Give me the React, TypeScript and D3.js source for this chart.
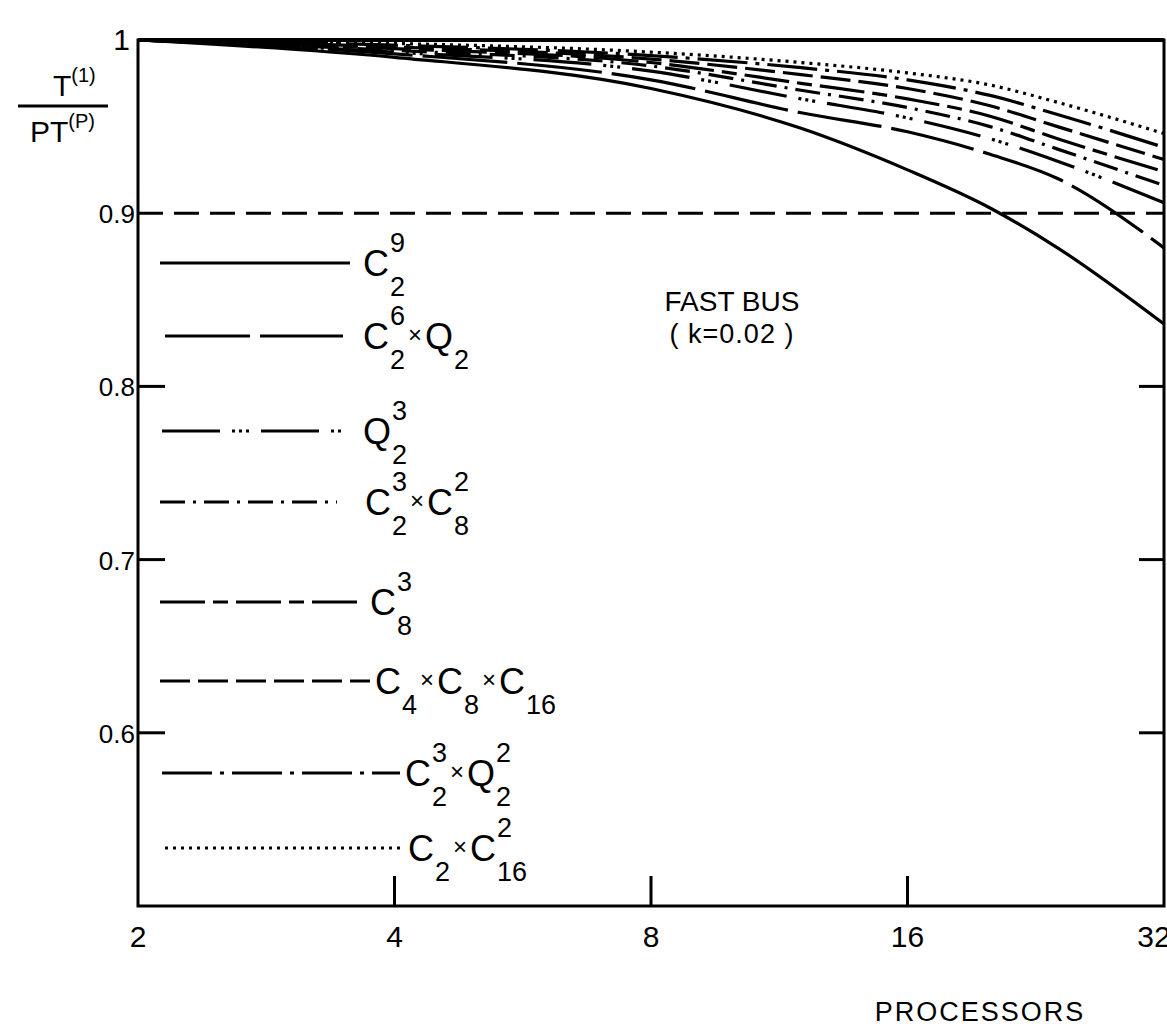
import { useMemo } from 'react';
import * as d3 from 'd3';

// processors sampled along the x axis
const procs = [2, 4, 8, 12, 16, 20, 24, 32];

// efficiency T(1)/(p T(p)) for each network
const effC2x9 = [1.0, 0.990, 0.972, 0.949, 0.925, 0.903, 0.880, 0.836];
const effC2x6Q2 = [1.0, 0.992, 0.977, 0.958, 0.947, 0.934, 0.920, 0.880];
const effQ2x3 = [1.0, 0.993, 0.982, 0.966, 0.955, 0.943, 0.930, 0.906];
const effC2x3C8x2 = [1.0, 0.994, 0.985, 0.971, 0.961, 0.950, 0.937, 0.916];
const effC8x3 = [1.0, 0.995, 0.987, 0.975, 0.966, 0.956, 0.943, 0.924];
const effC4C8C16 = [1.0, 0.996, 0.989, 0.980, 0.972, 0.962, 0.950, 0.931];
const effC2x3Q2x2 = [1.0, 0.997, 0.991, 0.984, 0.977, 0.968, 0.957, 0.938];
const effC2C16x2 = [1.0, 0.998, 0.993, 0.987, 0.981, 0.974, 0.964, 0.946];

const xTicks = [2, 4, 8, 16, 32];
const yTickLabels = [1, 0.9, 0.8, 0.7, 0.6];
const sideTicks = [0.8, 0.7, 0.6];

type Tok = { b: string; sub?: string; sup?: string };

const legendNames: Tok[][] = [
  [{ b: 'C', sub: '2', sup: '9' }],
  [{ b: 'C', sub: '2', sup: '6' }, { b: '×' }, { b: 'Q', sub: '2' }],
  [{ b: 'Q', sub: '2', sup: '3' }],
  [{ b: 'C', sub: '2', sup: '3' }, { b: '×' }, { b: 'C', sub: '8', sup: '2' }],
  [{ b: 'C', sub: '8', sup: '3' }],
  [{ b: 'C', sub: '4' }, { b: '×' }, { b: 'C', sub: '8' }, { b: '×' }, { b: 'C', sub: '16' }],
  [{ b: 'C', sub: '2', sup: '3' }, { b: '×' }, { b: 'Q', sub: '2', sup: '2' }],
  [{ b: 'C', sub: '2' }, { b: '×' }, { b: 'C', sub: '16', sup: '2' }],
];

const series = [effC2x9, effC2x6Q2, effQ2x3, effC2x3C8x2, effC8x3, effC4C8C16, effC2x3Q2x2, effC2C16x2];
const dashes = ['', '85,10', '58,12,3,4,3,4,3,12', '25,8,3,8', '45,8,15,8', '30,8', '50,8,4,8', '3,5'];

// legend rows: y of the sample line, start and end of it, where the name starts
const legendY = [263, 336, 431, 502, 602, 681, 773, 848];
const legendX0 = [160, 165, 162, 160, 160, 160, 162, 165];
const legendX1 = [350, 343, 345, 337, 362, 370, 400, 400];
const labelX = [363, 363, 363, 365, 370, 375, 405, 408];

const FONT = '"Liberation Sans", Arial, sans-serif';

function Label({ x, y, toks }: { x: number; y: number; toks: Tok[] }) {
  const big = 36;
  const small = 27;
  const supOff = -24;
  const subOff = 20;
  const parts: JSX.Element[] = [];
  let cur = 0;
  toks.forEach((t, i) => {
    if (t.b === '×') {
      parts.push(
        <tspan key={i + 'x'} fontSize={24} dy={-6 - cur} dx={3}>×</tspan>
      );
      cur = -6;
      return;
    }
    parts.push(
      <tspan key={i + 'b'} fontSize={big} dy={0 - cur} dx={i === 0 ? 0 : 3}>{t.b}</tspan>
    );
    cur = 0;
    if (t.sup) {
      parts.push(<tspan key={i + 'p'} fontSize={small} dy={supOff - cur} dx={1}>{t.sup}</tspan>);
      cur = supOff;
      if (t.sub) {
        const w = t.sup.length * small * 0.556;
        parts.push(<tspan key={i + 's'} fontSize={small} dx={-w} dy={subOff - cur}>{t.sub}</tspan>);
        cur = subOff;
      }
    } else if (t.sub) {
      parts.push(<tspan key={i + 's'} fontSize={small} dx={1} dy={subOff - cur}>{t.sub}</tspan>);
      cur = subOff;
    }
  });
  return (
    <text x={x} y={y} fontFamily={FONT} fill="#000">
      {parts}
    </text>
  );
}

export default function App() {
  const width = 1167;
  const height = 1027;
  const left = 138, right = 1164, top = 40, bottom = 906;

  const x = useMemo(() => d3.scaleLog().base(2).domain([2, 32]).range([left, right]), []);
  const y = useMemo(() => d3.scaleLinear().domain([0.5, 1]).range([bottom, top]), []);

  const line = d3
    .line<number>()
    .x((_, i) => x(procs[i]))
    .y((d) => y(d))
    .curve(d3.curveMonotoneX);

  return (
    <svg width={width} height={height} style={{ position: 'absolute', left: 0, top: 0, background: '#fff' }}>
      <rect width={width} height={height} fill="#fff" />
      {/* curves */}
      <g fill="none" stroke="#000" strokeWidth={3.2}>
        {series.map((s, i) => (
          <path key={i} d={line(s) || ''} strokeDasharray={dashes[i] || undefined} />
        ))}
      </g>
      {/* 0.9 reference */}
      <line x1={left} x2={right} y1={y(0.9)} y2={y(0.9)} stroke="#000" strokeWidth={3} strokeDasharray="25,11" />
      {/* frame */}
      <rect x={left} y={top} width={right - left} height={bottom - top} fill="none" stroke="#000" strokeWidth={3} />
      <line x1={left} x2={right} y1={top} y2={top} stroke="#000" strokeWidth={4} />
      {/* ticks */}
      <g stroke="#000" strokeWidth={3}>
        {sideTicks.map((t) => (
          <g key={t}>
            <line x1={left} x2={left + 27} y1={y(t)} y2={y(t)} />
            <line x1={right - 25} x2={right} y1={y(t)} y2={y(t)} />
          </g>
        ))}
        {xTicks.slice(1, -1).map((t) => (
          <line key={t} x1={x(t)} x2={x(t)} y1={bottom} y2={bottom - 30} />
        ))}
      </g>
      {/* tick labels */}
      <g fontFamily={FONT} fill="#000">
        {yTickLabels.map((t) => (
          <text key={t} x={t === 1 ? 130 : 135} y={y(t) + 10} fontSize={t === 1 ? 30 : 26} textAnchor="end">
            {t === 1 ? '1' : t.toFixed(1)}
          </text>
        ))}
        {xTicks.map((t) => (
          <text key={t} x={x(t) - (t === 32 ? 10 : 0)} y={947} fontSize={30} textAnchor="middle">
            {t}
          </text>
        ))}
        <text x={980} y={1021} fontSize={27} textAnchor="middle" letterSpacing={2}>PROCESSORS</text>
        <text x={732} y={311} fontSize={28} textAnchor="middle">FAST BUS</text>
        <text x={732} y={343} fontSize={27} textAnchor="middle" letterSpacing={1}>( k=0.02 )</text>
      </g>
      {/* y axis title */}
      <g fontFamily={FONT} fill="#000">
        <text x={53} y={96} fontSize={30}>T<tspan fontSize={20} dy={-14}>(1)</tspan></text>
        <line x1={18} x2={108} y1={106} y2={106} stroke="#000" strokeWidth={3} />
        <text x={30} y={142} fontSize={30}>PT<tspan fontSize={20} dy={-14}>(P)</tspan></text>
      </g>
      {/* legend */}
      <g>
        {legendNames.map((toks, i) => (
          <g key={i}>
            <line
              x1={legendX0[i]}
              x2={legendX1[i]}
              y1={legendY[i]}
              y2={legendY[i]}
              stroke="#000"
              strokeWidth={3}
              strokeDasharray={dashes[i] || undefined}
            />
            <Label x={labelX[i]} y={legendY[i] + 13} toks={toks} />
          </g>
        ))}
      </g>
    </svg>
  );
}
